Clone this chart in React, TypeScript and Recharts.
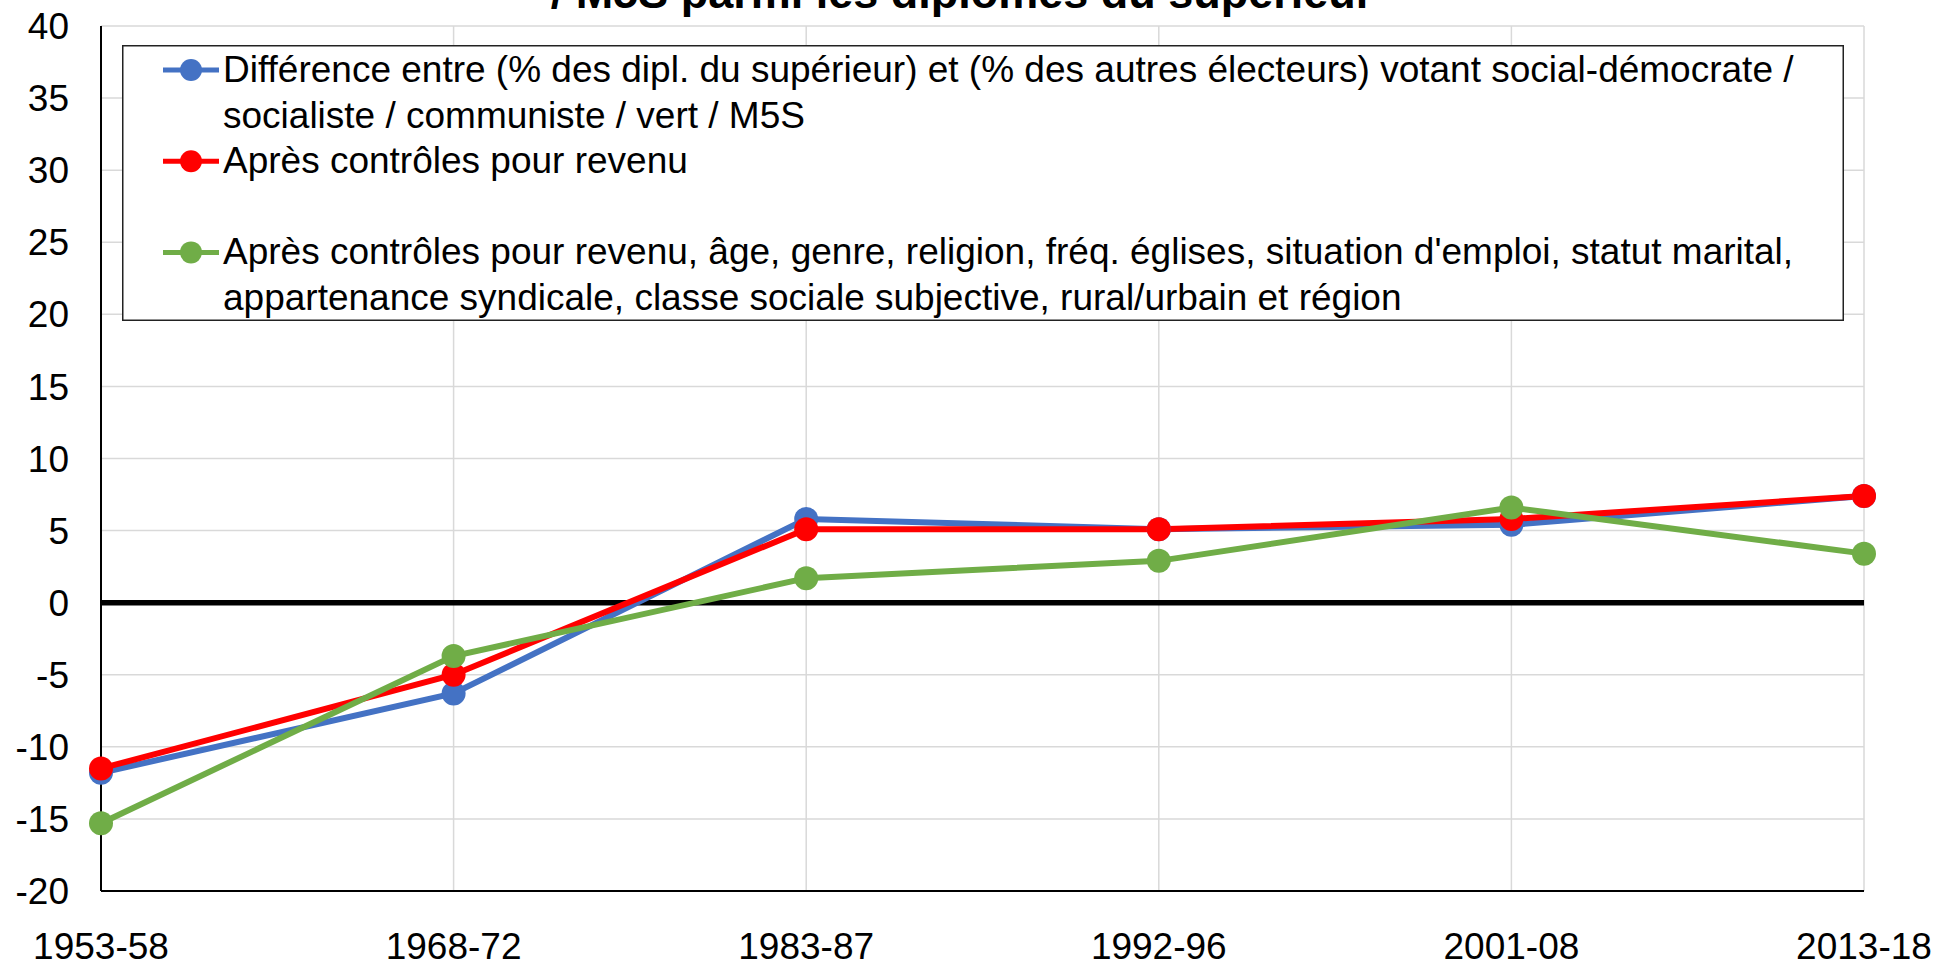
import {
  CartesianGrid,
  Legend,
  Line,
  LineChart,
  ReferenceLine,
  XAxis,
  YAxis,
} from 'recharts'

const FONT = '"Liberation Sans", Arial, sans-serif'
const GRID = '#d9d9d9'
const BLUE = '#4472c4'
const RED = '#ff0000'
const GREEN = '#70ad47'
const TXT = 37

// Periods on the x axis
const PERIODS = ['1953-58', '1968-72', '1983-87', '1992-96', '2001-08', '2013-18']

// Gap in percentage points
const RAW_GAP = [-11.8, -6.3, 5.8, 5.1, 5.4, 7.4]
const INCOME_CTRL = [-11.5, -5.0, 5.1, 5.1, 5.8, 7.4]
const FULL_CTRL = [-15.3, -3.7, 1.7, 2.9, 6.6, 3.4]

const Y_TICKS = [-20, -15, -10, -5, 0, 5, 10, 15, 20, 25, 30, 35, 40]

const TITLE_TAIL = '/ M5S parmi les diplômés du supérieur'

// Legend text, one entry per printed line (blank line kept for spacing)
const LEGEND_BLUE = [
  'Différence entre (% des dipl. du supérieur) et (% des autres électeurs) votant social-démocrate /',
  'socialiste / communiste / vert / M5S',
]
const LEGEND_RED = ['Après contrôles pour revenu', '']
const LEGEND_GREEN = [
  "Après contrôles pour revenu, âge, genre, religion, fréq. églises, situation d'emploi, statut marital,",
  'appartenance syndicale, classe sociale subjective, rural/urbain et région',
]

const SERIES = [
  { key: 'raw', color: BLUE, lines: LEGEND_BLUE, values: RAW_GAP },
  { key: 'income', color: RED, lines: LEGEND_RED, values: INCOME_CTRL },
  { key: 'full', color: GREEN, lines: LEGEND_GREEN, values: FULL_CTRL },
]

const data = PERIODS.map((p, i) => ({
  period: p,
  raw: RAW_GAP[i],
  income: INCOME_CTRL[i],
  full: FULL_CTRL[i],
}))

const W = 1937
const H = 962
const LEG_W = 1722
const LEG_H = 276

// Excel-style boxed legend: icon on the first line of each entry, text wraps by hand.
function BoxLegend() {
  let lineIdx = 0
  const rows: React.ReactNode[] = []
  SERIES.forEach((s) => {
    const base = 37 + lineIdx * 45.6
    const cy = base - 12
    rows.push(
      <g key={s.key}>
        <line x1={41} x2={97} y1={cy} y2={cy} stroke={s.color} strokeWidth={5} />
        <circle cx={69} cy={cy} r={11} fill={s.color} />
        {s.lines.map((t, j) => (
          <text key={j} x={101} y={37 + (lineIdx + j) * 45.6} fontSize={TXT} fill="#000">
            {t}
          </text>
        ))}
      </g>,
    )
    lineIdx += s.lines.length
  })
  return (
    <svg width={LEG_W} height={LEG_H} style={{ display: 'block', fontFamily: FONT }}>
      <rect x={0.75} y={0.75} width={LEG_W - 1.5} height={LEG_H - 1.5} fill="#fff" stroke="#222" strokeWidth={1.5} />
      {rows}
    </svg>
  )
}

export default function App() {
  return (
    <div style={{ position: 'absolute', left: 0, top: 0, width: W, height: H, background: '#fff', fontFamily: FONT }}>
      <LineChart
        width={W}
        height={H}
        data={data}
        margin={{ top: 26, right: 73, bottom: 0, left: 0 }}
        style={{ fontFamily: FONT }}
      >
        <CartesianGrid stroke={GRID} strokeWidth={1.5} />
        <XAxis
          dataKey="period"
          height={71}
          interval={0}
          tickLine={false}
          tickSize={0}
          tickMargin={42}
          axisLine={{ stroke: '#000', strokeWidth: 2 }}
          tick={{ fontSize: TXT, fill: '#000' }}
        />
        <XAxis
          xAxisId="top"
          orientation="top"
          dataKey="period"
          height={0}
          tick={false}
          tickLine={false}
          axisLine={{ stroke: '#000', strokeWidth: 2 }}
        />
        <YAxis
          domain={[-20, 40]}
          ticks={Y_TICKS}
          width={101}
          interval={0}
          tickLine={false}
          tickSize={0}
          tickMargin={32}
          axisLine={{ stroke: '#000', strokeWidth: 2 }}
          tick={{ fontSize: TXT, fill: '#000' }}
        />
        <YAxis
          yAxisId="right"
          orientation="right"
          domain={[-20, 40]}
          width={0}
          tick={false}
          tickLine={false}
          axisLine={{ stroke: '#000', strokeWidth: 2 }}
        />
        <ReferenceLine y={0} stroke="#000" strokeWidth={5.5} />
        {SERIES.map((s) => (
          <Line
            key={s.key}
            dataKey={s.key}
            name={s.lines.join(' ')}
            stroke={s.color}
            strokeWidth={6}
            dot={{ r: 12, fill: s.color, stroke: s.color, strokeWidth: 0 }}
            activeDot={false}
            isAnimationActive={false}
          />
        ))}
        <Legend
          layout="horizontal"
          verticalAlign="middle"
          align="center"
          wrapperStyle={{ left: 122, top: 45, width: LEG_W, height: LEG_H }}
          content={() => <BoxLegend />}
        />
      </LineChart>
      <svg
        width={W}
        height={40}
        style={{ position: 'absolute', left: 0, top: 0, pointerEvents: 'none' }}
      >
        <text x={962} y={8} textAnchor="middle" fontSize={45} fontWeight="bold" fontFamily={FONT} fill="#000">
          {TITLE_TAIL}
        </text>
      </svg>
    </div>
  )
}
